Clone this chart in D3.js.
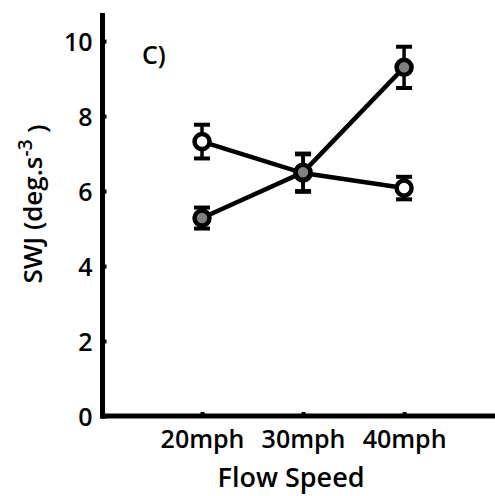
<!DOCTYPE html>
<html>
<head>
<meta charset="utf-8">
<script src="https://cdn.jsdelivr.net/npm/d3@7"></script>
<style>
  html, body { margin: 0; padding: 0; background: #fff; }
  svg { display: block; }
  text { font-family: "Open Sans", "DejaVu Sans", sans-serif; font-weight: 600; fill: #000; }
</style>
</head>
<body>
<div id="chart"></div>
<script>
// ---- data ----
const categories = ["20mph", "30mph", "40mph"];
const openMeans = [7.32, 6.48, 6.08];
const openErrors = [0.45, 0.5, 0.3];
const filledMeans = [5.28, 6.5, 9.3];
const filledErrors = [0.28, 0.5, 0.55];
const yTicks = [0, 2, 4, 6, 8, 10];
const panelLabel = "C)";
const xTitle = "Flow Speed";

const W = 495, H = 496;
const svg = d3.select("#chart").append("svg").attr("width", W).attr("height", H);

const x = d3.scaleLinear().domain([0, 3.9]).range([101, 495]);
const y = d3.scaleLinear().domain([0, 10.75]).range([416, 13]);

// axes
const yAxis = svg.append("g").attr("transform", `translate(${x(0) + 1.5},0)`)
  .call(d3.axisLeft(y).tickValues(yTicks).tickSize(-4).tickPadding(10).tickFormat(d3.format("d")));
yAxis.select(".domain").remove();
yAxis.selectAll(".tick line").attr("stroke", "#000").attr("stroke-width", 4);
yAxis.selectAll(".tick text").style("font-size", "25px").attr("dy", "0.38em");

const xAxis = svg.append("g").attr("transform", `translate(0,${y(0)})`)
  .call(d3.axisBottom(x).tickValues([1, 2, 3]).tickSize(-4).tickPadding(14).tickFormat((d) => categories[d - 1]));
xAxis.select(".domain").remove();
xAxis.selectAll(".tick line").attr("stroke", "#000").attr("stroke-width", 4);
xAxis.selectAll(".tick text").style("font-size", "25px").attr("dy", "0.71em");

// axis lines
svg.append("line").attr("x1", x(0) + 1.5).attr("x2", x(0) + 1.5).attr("y1", y(10.75)).attr("y2", y(0) + 2.5)
  .attr("stroke", "#000").attr("stroke-width", 5);
svg.append("line").attr("x1", x(0) - 1).attr("x2", x(3.9)).attr("y1", y(0)).attr("y2", y(0))
  .attr("stroke", "#000").attr("stroke-width", 5);

// series
function drawSeries(means, errs, fill) {
  const pts = means.map((m, i) => ({ cx: x(i + 1), m, e: errs[i] }));
  svg.append("path").datum(pts)
    .attr("d", d3.line().x(d => d.cx).y(d => y(d.m)))
    .attr("fill", "none").attr("stroke", "#000").attr("stroke-width", 4.5);
  const g = svg.append("g");
  pts.forEach(d => {
    g.append("line").attr("x1", d.cx).attr("x2", d.cx).attr("y1", y(d.m + d.e)).attr("y2", y(d.m - d.e))
      .attr("stroke", "#000").attr("stroke-width", 3.5);
    [d.m + d.e, d.m - d.e].forEach(v => {
      g.append("line").attr("x1", d.cx - 8).attr("x2", d.cx + 8).attr("y1", y(v)).attr("y2", y(v))
        .attr("stroke", "#000").attr("stroke-width", 4);
    });
    g.append("circle").attr("cx", d.cx).attr("cy", y(d.m)).attr("r", 7.5)
      .attr("fill", fill).attr("stroke", "#000").attr("stroke-width", 4.5);
  });
}
drawSeries(openMeans, openErrors, "#ffffff");
drawSeries(filledMeans, filledErrors, "#808080");

// texts
svg.append("text").attr("x", 142).attr("y", 64).style("font-size", "25px").text(panelLabel);
svg.append("text").attr("x", 291).attr("y", 487).attr("text-anchor", "middle").style("font-size", "27px").text(xTitle);

const yl = svg.append("text").attr("transform", "translate(42,204) rotate(-90)").attr("text-anchor", "middle").style("font-size", "26px");
yl.append("tspan").text("SWJ (deg.s");
yl.append("tspan").attr("dy", "-0.55em").style("font-size", "19px").text("-3");
yl.append("tspan").attr("dy", "0.55em").text(" )");
</script>
</body>
</html>
